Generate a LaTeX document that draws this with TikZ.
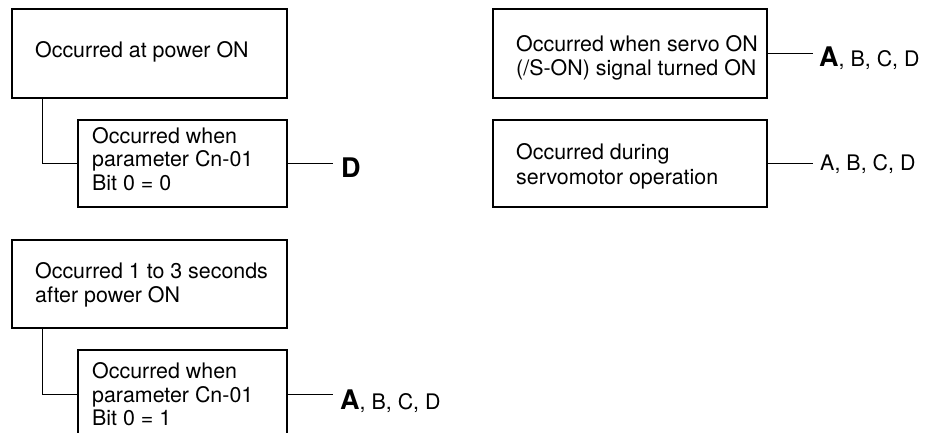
\documentclass[tikz,border=0pt]{standalone}
\usepackage{fontspec}
\setmainfont{TeX Gyre Heros}
\newcommand\mybigbf[1]{{\fontsize{27}{30}\selectfont\bfseries #1}}
\begin{document}
\begin{tikzpicture}[x=1pt,y=-1pt,
  box/.style={draw, line width=1.2pt, rectangle, inner sep=0pt},
  txt/.style={anchor=base west, inner sep=0pt, font=\fontsize{21.4}{24}\selectfont},
  conn/.style={line width=1.2pt}]
\useasboundingbox (0,0) rectangle (929,433);
\clip (0,0) rectangle (929,433);

% boxes
\node[box, minimum width=275pt, minimum height=89pt] (b1) at (149.5,53.5) {};
\node[box, minimum width=209pt, minimum height=87pt] (b2) at (182.5,163.5) {};
\node[box, minimum width=275pt, minimum height=88pt] (b3) at (149.5,284) {};
\node[box, minimum width=209pt, minimum height=100pt] (b4) at (182.5,400) {};
\node[box, minimum width=274pt, minimum height=89pt] (b5) at (630,53.5) {};
\node[box, minimum width=274pt, minimum height=87pt] (b6) at (630,163.5) {};
\coordinate (b4in) at ([yshift=-45pt]b4.north west);
\coordinate (b4out) at ([yshift=-45pt]b4.north east);

% box texts
\node[txt] (t1) at (35,58) {Occurred at power ON};
\node[txt] (t2a) at (92,143) {Occurred when};
\node[txt] (t2b) at (92,167) {parameter Cn-01};
\node[txt] (t2c) at (92,190) {Bit 0 = 0};
\node[txt] (t3a) at (35,278) {Occurred 1 to 3 seconds};
\node[txt] (t3b) at (35,302) {after power ON};
\node[txt] (t4a) at (92,378) {Occurred when};
\node[txt] (t4b) at (92,402) {parameter Cn-01};
\node[txt] (t4c) at (92,425) {Bit 0 = 1};
\node[txt] (t5a) at (516,52) {Occurred when servo ON};
\node[txt] (t5b) at (516,76) {(/S-ON) signal turned ON};
\node[txt] (t6a) at (516,160) {Occurred during};
\node[txt] (t6b) at (516,184) {servomotor operation};

% result labels
\node[txt] (l2) at (341,177) {\mybigbf{D}};
\node[txt] (l4) at (340,409) {\mybigbf{A}, B, C, D};
\node[txt] (l5) at (819,67) {\mybigbf{A}, B, C, D};
\node[txt] (l6) at (820,171) {A, B, C, D};

% connectors
\draw[conn] ([xshift=31pt]b1.south west) |- (b2.west);
\draw[conn] ([xshift=31pt]b3.south west) |- (b4in);
\draw[conn] (b2.east) -- ([xshift=-8pt]l2.west |- b2.east);
\draw[conn] (b4out) -- ([xshift=-7pt]l4.west |- b4out);
\draw[conn] (b5.east) -- ([xshift=-6pt]l5.west |- b5.east);
\draw[conn] (b6.east) -- ([xshift=-7pt]l6.west |- b6.east);
\end{tikzpicture}
\end{document}
